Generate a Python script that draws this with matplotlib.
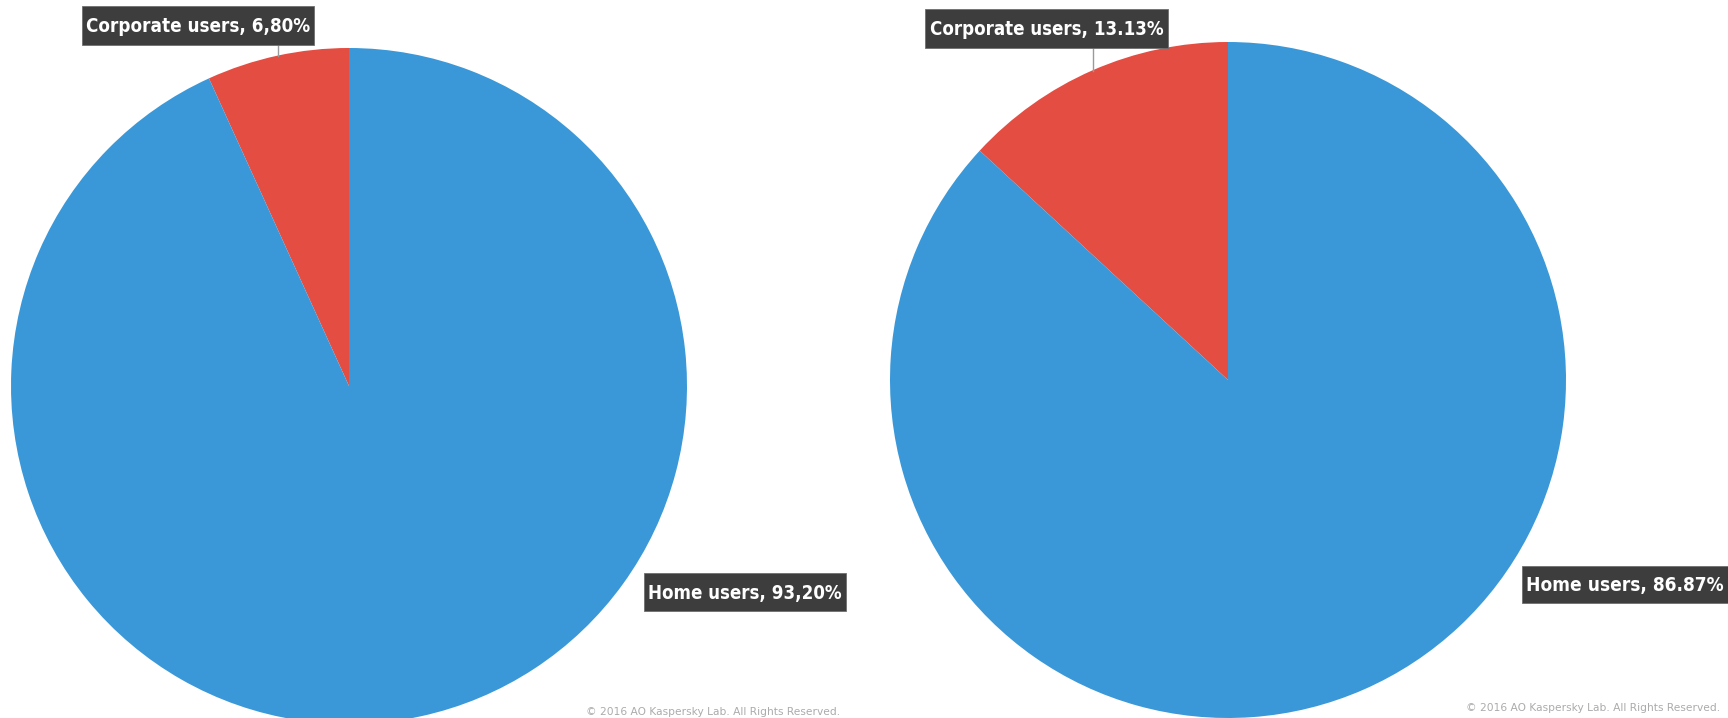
import matplotlib
matplotlib.use("Agg")
from matplotlib import pyplot as plt
from matplotlib.patches import Rectangle

# Share of attacked users, two periods
groups = ["Corporate users", "Home users"]
share_left = [6.80, 93.20]
share_right = [13.13, 86.87]
labels_left = ["Corporate users, 6,80%", "Home users, 93,20%"]
labels_right = ["Corporate users, 13.13%", "Home users, 86.87%"]

COLORS = ["#E44D42", "#3A98D8"]
BOX = "#3D3D3D"
W, H = 1728, 718

fig = plt.figure(figsize=(W / 100, H / 100), dpi=100)
ax = fig.add_axes([0, 0, 1, 1])

def draw_pie(values, cx, cy, r):
    # cy given in pixels from top
    ax.pie(values, colors=COLORS, startangle=90, counterclock=True,
           center=(cx, H - cy), radius=r,
           wedgeprops=dict(linewidth=0, antialiased=True))

draw_pie(share_left, 349, 386, 338)
draw_pie(share_right, 1228, 380, 338)

label_font = dict(family=["DejaVu Sans"], fontstretch="condensed",
                  fontweight="bold", fontsize=15, color="white",
                  ha="center", va="center")

texts = []

def label(text, x0, x1, y0, y1):
    # box edges in pixels from top-left
    ax.add_patch(Rectangle((x0, H - y1), x1 - x0, y1 - y0,
                           fc=BOX, ec="#6f6f6f", lw=0.6, zorder=3))
    t = ax.text((x0 + x1) / 2, H - (y0 + y1) / 2 - 1, text, zorder=4, **label_font)
    texts.append((t, x1 - x0 - 8))

def leader(x, y0, y1):
    ax.plot([x, x], [H - y0, H - y1], color="#9a9a9a", lw=1, zorder=1)

leader(278, 45, 56)
leader(1093, 48, 71)

label(labels_left[0], 82, 314, 6, 45)
label(labels_left[1], 644, 846, 573, 611)
label(labels_right[0], 925, 1168, 9, 48)
label(labels_right[1], 1522, 1728, 566, 603)

copyright = "\u00a9 2016 AO Kaspersky Lab. All Rights Reserved."
ax.text(840, H - 712, copyright, ha="right", va="center",
        fontsize=7.7, color="#ababab", family="DejaVu Sans")
ax.text(1720, H - 708, copyright, ha="right", va="center",
        fontsize=7.7, color="#ababab", family="DejaVu Sans")

ax.set_xlim(0, W)
ax.set_ylim(0, H)
ax.set_aspect("auto")
ax.axis("off")

# shrink each label so it sits inside its box
renderer = fig.canvas.get_renderer()
for t, room in texts:
    w = t.get_window_extent(renderer).width
    if w > room:
        t.set_fontsize(t.get_fontsize() * room / w)

fig.savefig("out.png", dpi=100)
